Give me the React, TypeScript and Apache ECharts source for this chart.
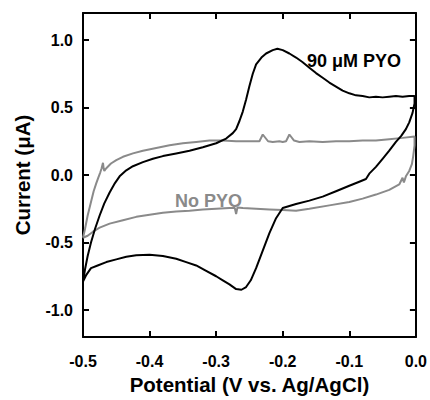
import React, { useEffect, useRef } from "react";
import * as echarts from "echarts";

const xTicks = [-0.5, -0.4, -0.3, -0.2, -0.1, 0.0];
const yTicks = [-1.0, -0.5, 0.0, 0.5, 1.0];

const pyoLabel = "90 μM PYO";
const noPyoLabel = "No PYO";

// 90 µM PYO cyclic voltammogram [potential V, current µA]
const pyoCurve: number[][] = [
  [-0.5, -0.79], [-0.497, -0.7], [-0.493, -0.6], [-0.488, -0.5], [-0.482, -0.4],
  [-0.475, -0.3], [-0.468, -0.21], [-0.46, -0.13], [-0.452, -0.06], [-0.445, -0.01],
  [-0.435, 0.035], [-0.425, 0.065], [-0.41, 0.095], [-0.395, 0.12], [-0.38, 0.14],
  [-0.36, 0.16], [-0.34, 0.18], [-0.32, 0.205], [-0.3, 0.235], [-0.285, 0.27],
  [-0.275, 0.31], [-0.27, 0.34], [-0.265, 0.4], [-0.26, 0.47], [-0.255, 0.56],
  [-0.25, 0.66], [-0.245, 0.75], [-0.24, 0.82], [-0.232, 0.87], [-0.225, 0.9],
  [-0.215, 0.925], [-0.208, 0.935], [-0.2, 0.925], [-0.19, 0.9], [-0.18, 0.87],
  [-0.17, 0.835], [-0.16, 0.795], [-0.15, 0.755], [-0.14, 0.72], [-0.13, 0.685],
  [-0.12, 0.655], [-0.11, 0.625], [-0.1, 0.605], [-0.09, 0.59], [-0.08, 0.585],
  [-0.07, 0.575], [-0.06, 0.58], [-0.05, 0.575], [-0.04, 0.58], [-0.03, 0.585],
  [-0.02, 0.58], [-0.01, 0.585], [-0.002, 0.585],
  [-0.002, 0.53], [-0.005, 0.46], [-0.01, 0.39], [-0.015, 0.34], [-0.022, 0.29],
  [-0.03, 0.245], [-0.04, 0.18], [-0.05, 0.12], [-0.06, 0.06], [-0.07, 0.01],
  [-0.075, -0.03], [-0.085, -0.05], [-0.1, -0.08], [-0.12, -0.12], [-0.14, -0.16],
  [-0.16, -0.19], [-0.18, -0.215], [-0.2, -0.245], [-0.21, -0.32], [-0.22, -0.43],
  [-0.23, -0.56], [-0.24, -0.69], [-0.248, -0.78], [-0.255, -0.83], [-0.262, -0.85],
  [-0.27, -0.845], [-0.28, -0.81], [-0.29, -0.78], [-0.3, -0.75], [-0.315, -0.71],
  [-0.33, -0.67], [-0.345, -0.645], [-0.36, -0.62], [-0.38, -0.6], [-0.4, -0.59],
  [-0.42, -0.595], [-0.435, -0.605], [-0.45, -0.625], [-0.465, -0.645], [-0.478, -0.67],
  [-0.488, -0.69], [-0.495, -0.74], [-0.5, -0.79],
];

// No PYO (background) voltammogram [potential V, current µA]
const noPyoCurve: number[][] = [
  [-0.5, -0.465], [-0.497, -0.4], [-0.493, -0.3], [-0.488, -0.2], [-0.484, -0.12],
  [-0.48, -0.06], [-0.477, -0.02], [-0.474, 0.02], [-0.472, 0.05], [-0.47, 0.09],
  [-0.469, 0.05], [-0.468, 0.03], [-0.465, 0.05], [-0.458, 0.085], [-0.45, 0.11],
  [-0.44, 0.135], [-0.425, 0.16], [-0.41, 0.18], [-0.39, 0.2], [-0.37, 0.22],
  [-0.35, 0.235], [-0.33, 0.245], [-0.31, 0.255], [-0.29, 0.255], [-0.27, 0.25],
  [-0.25, 0.25], [-0.235, 0.25], [-0.23, 0.3], [-0.222, 0.25], [-0.215, 0.245],
  [-0.205, 0.25], [-0.2, 0.245], [-0.195, 0.25], [-0.19, 0.3], [-0.183, 0.255],
  [-0.175, 0.245], [-0.16, 0.25], [-0.14, 0.245], [-0.12, 0.25], [-0.1, 0.25],
  [-0.08, 0.255], [-0.06, 0.255], [-0.04, 0.265], [-0.02, 0.275], [-0.002, 0.285],
  [-0.002, 0.22], [-0.004, 0.14], [-0.006, 0.08], [-0.01, 0.03], [-0.015, -0.01],
  [-0.018, -0.055], [-0.02, -0.02], [-0.025, -0.07], [-0.04, -0.11], [-0.06, -0.145],
  [-0.08, -0.175], [-0.1, -0.2], [-0.13, -0.225], [-0.16, -0.25], [-0.18, -0.265],
  [-0.2, -0.26], [-0.22, -0.255], [-0.24, -0.25], [-0.26, -0.245], [-0.268, -0.24],
  [-0.27, -0.29], [-0.272, -0.245], [-0.28, -0.245], [-0.3, -0.25], [-0.32, -0.255],
  [-0.34, -0.265], [-0.36, -0.27], [-0.38, -0.28], [-0.4, -0.295], [-0.42, -0.31],
  [-0.44, -0.335], [-0.46, -0.36], [-0.475, -0.39], [-0.485, -0.42], [-0.493, -0.45],
  [-0.5, -0.465],
];

const FONT = "'Liberation Sans', Arial, Helvetica, sans-serif";
const GREY = "#8a8a8a";

const fmt = (v: number) => (Math.abs(v) < 1e-9 ? "0.0" : v.toFixed(1));

export default function App() {
  const ref = useRef<HTMLDivElement>(null);
  useEffect(() => {
    if (!ref.current) return;
    const chart = echarts.init(ref.current, undefined, { renderer: "svg" });
    const axisLine = { show: true, onZero: false, lineStyle: { color: "#000", width: 2 } };
    const tick = { show: true, inside: true, length: 6, lineStyle: { color: "#000", width: 2 } };
    chart.setOption({
      animation: false,
      backgroundColor: "#fff",
      grid: { left: 83, right: 13, top: 13, bottom: 55, containLabel: false },
      xAxis: [
        {
          type: "value",
          min: -0.5,
          max: 0,
          position: "bottom",
          axisLine,
          axisTick: { ...tick, customValues: xTicks },
          splitLine: { show: false },
          axisLabel: {
            customValues: xTicks,
            formatter: fmt,
            fontFamily: FONT,
            fontWeight: "bold",
            fontSize: 16,
            color: "#000",
            margin: 16,
          },
          name: "Potential (V vs. Ag/AgCl)",
          nameLocation: "middle",
          nameGap: 37,
          nameTextStyle: { fontFamily: FONT, fontWeight: "bold", fontSize: 20.5, color: "#000" },
        },
        {
          type: "value",
          min: -0.5,
          max: 0,
          position: "top",
          axisLine,
          axisTick: { ...tick, customValues: xTicks },
          splitLine: { show: false },
          axisLabel: { show: false },
        },
      ],
      yAxis: [
        {
          type: "value",
          min: -1.2,
          max: 1.2,
          position: "left",
          axisLine,
          axisTick: { ...tick, customValues: yTicks },
          splitLine: { show: false },
          axisLabel: {
            customValues: yTicks,
            formatter: fmt,
            fontFamily: FONT,
            fontWeight: "bold",
            fontSize: 16,
            color: "#000",
            margin: 10,
          },
          name: "Current (μA)",
          nameLocation: "middle",
          nameGap: 50,
          nameTextStyle: { fontFamily: FONT, fontWeight: "bold", fontSize: 20.5, color: "#000" },
        },
        {
          type: "value",
          min: -1.2,
          max: 1.2,
          position: "right",
          axisLine,
          axisTick: { ...tick, customValues: yTicks },
          splitLine: { show: false },
          axisLabel: { show: false },
        },
      ],
      series: [
        {
          name: noPyoLabel,
          type: "line",
          data: noPyoCurve,
          showSymbol: false,
          symbol: "none",
          lineStyle: { color: GREY, width: 2 },
          z: 2,
        },
        {
          name: pyoLabel,
          type: "line",
          data: pyoCurve,
          showSymbol: false,
          symbol: "none",
          lineStyle: { color: "#000", width: 2 },
          z: 3,
        },
      ],
      graphic: [
        {
          type: "text",
          left: 307,
          top: 52,
          style: { text: pyoLabel, fontFamily: FONT, fontWeight: "bold", fontSize: 18, fill: "#000" },
        },
        {
          type: "text",
          left: 175,
          top: 192,
          style: { text: noPyoLabel, fontFamily: FONT, fontWeight: "bold", fontSize: 18, fill: GREY },
        },
      ],
    });
    return () => chart.dispose();
  }, []);
  return (
    <div
      ref={ref}
      style={{ position: "absolute", left: 0, top: 0, width: 430, height: 400 }}
    />
  );
}
